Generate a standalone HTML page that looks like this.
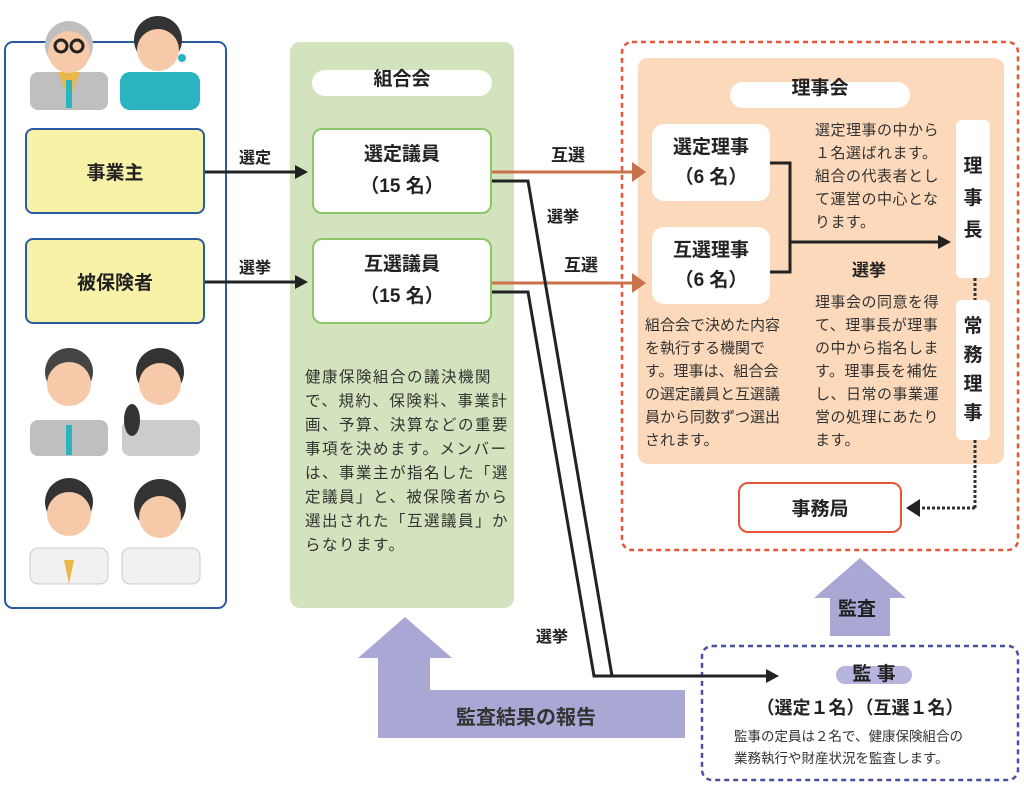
<!DOCTYPE html>
<html><head><meta charset="utf-8">
<style>
body{margin:0;width:1024px;height:788px;position:relative;background:#fff;font-family:"Liberation Sans","Noto Sans CJK JP",sans-serif;color:#222;overflow:hidden}
.a{position:absolute;box-sizing:border-box}
.box{display:flex;align-items:center;justify-content:center;text-align:center;font-weight:bold}
.t{position:absolute;font-size:15px;line-height:23px;color:#333;white-space:nowrap}
</style></head><body>
<svg class="a" style="left:0;top:0" width="1024" height="788">
<defs>
<marker id="k" markerWidth="14" markerHeight="14" refX="10" refY="7" orient="auto" markerUnits="userSpaceOnUse"><path d="M0,0L13,7L0,14z" fill="#222"/></marker>
</defs>
<rect x="5" y="42" width="221" height="566" rx="8" fill="#fff" stroke="#2a5aa0" stroke-width="2"/>
<rect x="290" y="42" width="224" height="566" rx="10" fill="#d3e3bd"/>
<rect x="622" y="42" width="396" height="508" rx="10" fill="none" stroke="#e8553a" stroke-width="2.5" stroke-dasharray="5,4"/>
<rect x="638" y="58" width="366" height="406" rx="10" fill="#fcd9bb"/>
<rect x="702" y="646" width="316" height="134" rx="10" fill="none" stroke="#4a4fa0" stroke-width="2.5" stroke-dasharray="5,4"/>
<path d="M405,617 L452,658 L430,658 L430,690 L685,690 L685,738 L378,738 L378,658 L358,658 Z" fill="#a9a7d4"/>
<path d="M860,558 L906,598 L890,598 L890,636 L830,636 L830,598 L814,598 Z" fill="#a9a7d4"/>
<line x1="205" y1="172" x2="305" y2="172" stroke="#222" stroke-width="3" marker-end="url(#k)"/>
<line x1="205" y1="282" x2="305" y2="282" stroke="#222" stroke-width="3" marker-end="url(#k)"/>
<line x1="492" y1="172" x2="636" y2="172" stroke="#c8714a" stroke-width="3"/>
<path d="M632,162L646,172L632,182z" fill="#c8714a"/>
<line x1="492" y1="283" x2="636" y2="283" stroke="#c8714a" stroke-width="3"/>
<path d="M632,273L646,283L632,293z" fill="#c8714a"/>
<polyline points="492,181 528,181 612,676" fill="none" stroke="#222" stroke-width="3"/>
<polyline points="492,292 528,292 594,676 776,676" fill="none" stroke="#222" stroke-width="3" marker-end="url(#k)"/>
<polyline points="770,163 790,163 790,272 770,272" fill="none" stroke="#222" stroke-width="3"/>
<line x1="790" y1="242" x2="948" y2="242" stroke="#222" stroke-width="3" marker-end="url(#k)"/>
<line x1="975" y1="278" x2="975" y2="300" stroke="#333" stroke-width="3" stroke-dasharray="3,2"/>
<line x1="975" y1="440" x2="975" y2="508" stroke="#333" stroke-width="3" stroke-dasharray="3,2"/>
<line x1="975" y1="508" x2="916" y2="508" stroke="#333" stroke-width="3" stroke-dasharray="3,2"/>
<path d="M920,499L906,508L920,517z" fill="#222"/>
<g>
<rect x="30" y="72" width="78" height="38" rx="8" fill="#bfbfbf"/><path d="M58,72L69,100L80,72z" fill="#e8b84a"/><rect x="66" y="80" width="6" height="28" fill="#2bb3c0"/>
<circle cx="69" cy="45" r="24" fill="#bfbfbf"/><circle cx="69" cy="52" r="21" fill="#f6c9a8"/>
<circle cx="61" cy="46" r="6" fill="none" stroke="#222" stroke-width="3"/><circle cx="77" cy="46" r="6" fill="none" stroke="#222" stroke-width="3"/>
<rect x="120" y="72" width="80" height="38" rx="10" fill="#2bb3c0"/><circle cx="158" cy="40" r="24" fill="#333"/><circle cx="158" cy="50" r="21" fill="#f6c9a8"/><circle cx="182" cy="58" r="4" fill="#2bb3c0"/>
<rect x="30" y="420" width="78" height="36" rx="8" fill="#bfbfbf"/><rect x="66" y="425" width="6" height="30" fill="#2bb3c0"/><circle cx="69" cy="372" r="24" fill="#444"/><circle cx="69" cy="384" r="22" fill="#f6c9a8"/>
<rect x="122" y="420" width="78" height="36" rx="8" fill="#ccc"/><circle cx="160" cy="372" r="24" fill="#333"/><circle cx="160" cy="384" r="21" fill="#f6c9a8"/><ellipse cx="132" cy="420" rx="8" ry="16" fill="#333"/>
<rect x="30" y="548" width="78" height="36" rx="8" fill="#f1f1f1" stroke="#ccc"/><path d="M64,560L74,560L69,584z" fill="#e8b84a"/><circle cx="69" cy="502" r="24" fill="#333"/><circle cx="69" cy="514" r="22" fill="#f6c9a8"/>
<rect x="122" y="548" width="78" height="36" rx="8" fill="#f1f1f1" stroke="#ccc"/><circle cx="160" cy="505" r="26" fill="#333"/><circle cx="160" cy="517" r="21" fill="#f6c9a8"/>
</g>
</svg>

<div class="a box" style="left:25px;top:128px;width:180px;height:86px;background:#f8f2a8;border:2px solid #2a5aa0;border-radius:8px;font-size:19px">事業主</div>
<div class="a box" style="left:25px;top:238px;width:180px;height:86px;background:#f8f2a8;border:2px solid #2a5aa0;border-radius:8px;font-size:19px">被保険者</div>
<div class="a" style="left:239px;top:144px;font-size:16px;font-weight:bold">選定</div>
<div class="a" style="left:239px;top:254px;font-size:16px;font-weight:bold">選挙</div>

<div class="a box" style="left:312px;top:70px;width:180px;height:26px;background:#fff;border-radius:13px;font-size:19px;line-height:19px;align-items:flex-start;padding-top:0">組合会</div>
<div class="a box" style="left:312px;top:128px;width:180px;height:86px;background:#fff;border:2px solid #8cc66a;border-radius:10px;font-size:19px;line-height:32px">選定議員<br>（15 名）</div>
<div class="a box" style="left:312px;top:238px;width:180px;height:86px;background:#fff;border:2px solid #8cc66a;border-radius:10px;font-size:19px;line-height:32px">互選議員<br>（15 名）</div>
<div class="t" style="left:305px;top:366px;font-size:15.5px;line-height:24px;letter-spacing:1.5px">健康保険組合の議決機関<br>で、規約、保険料、事業計<br>画、予算、決算などの重要<br>事項を決めます。メンバー<br>は、事業主が指名した「選<br>定議員」と、被保険者から<br>選出された「互選議員」か<br>らなります。</div>

<div class="a" style="left:551px;top:141px;font-size:17px;font-weight:bold">互選</div>
<div class="a" style="left:564px;top:251px;font-size:17px;font-weight:bold">互選</div>
<div class="a" style="left:547px;top:203px;font-size:16px;font-weight:bold">選挙</div>
<div class="a" style="left:536px;top:623px;font-size:16px;font-weight:bold">選挙</div>

<div class="a box" style="left:730px;top:82px;width:180px;height:26px;background:#fff;border-radius:13px;font-size:19px;align-items:flex-start;line-height:14px;padding-top:0">理事会</div>
<div class="a box" style="left:652px;top:124px;width:118px;height:77px;background:#fff;border-radius:12px;font-size:19px;line-height:30px">選定理事<br>（6 名）</div>
<div class="a box" style="left:652px;top:227px;width:118px;height:77px;background:#fff;border-radius:12px;font-size:19px;line-height:30px">互選理事<br>（6 名）</div>
<div class="a box" style="left:956px;top:120px;width:34px;height:158px;background:#fff;border-radius:6px;font-size:19px;line-height:32px">理<br>事<br>長</div>
<div class="a box" style="left:956px;top:300px;width:34px;height:140px;background:#fff;border-radius:6px;font-size:19px;line-height:29px">常<br>務<br>理<br>事</div>
<div class="t" style="left:815px;top:119px;letter-spacing:0.5px">選定理事の中から<br>１名選ばれます。<br>組合の代表者とし<br>て運営の中心とな<br>ります。</div>
<div class="a" style="left:852px;top:256px;font-size:17px;font-weight:bold">選挙</div>
<div class="t" style="left:815px;top:291px;letter-spacing:0.5px">理事会の同意を得<br>て、理事長が理事<br>の中から指名しま<br>す。理事長を補佐<br>し、日常の事業運<br>営の処理にあたり<br>ます。</div>
<div class="t" style="left:645px;top:314px;letter-spacing:0px">組合会で決めた内容<br>を執行する機関で<br>す。理事は、組合会<br>の選定議員と互選議<br>員から同数ずつ選出<br>されます。</div>
<div class="a box" style="left:738px;top:482px;width:164px;height:51px;background:#fff;border:2px solid #e8553a;border-radius:10px;font-size:19px">事務局</div>

<div class="a" style="left:838px;top:594px;font-size:19px;font-weight:bold">監査</div>
<div class="a" style="left:456px;top:701px;font-size:20px;font-weight:bold;color:#333">監査結果の報告</div>

<div class="a box" style="left:836px;top:666px;width:76px;height:18px;background:#b7b5dd;border-radius:9px;font-size:19px;line-height:18px">監 事</div>
<div class="a" style="left:702px;top:694px;width:316px;text-align:center;font-size:18px;font-weight:bold">（選定１名）（互選１名）</div>
<div class="a" style="left:734px;top:726px;font-size:13.5px;line-height:22px;color:#333">監事の定員は２名で、健康保険組合の<br>業務執行や財産状況を監査します。</div>
</body></html>
